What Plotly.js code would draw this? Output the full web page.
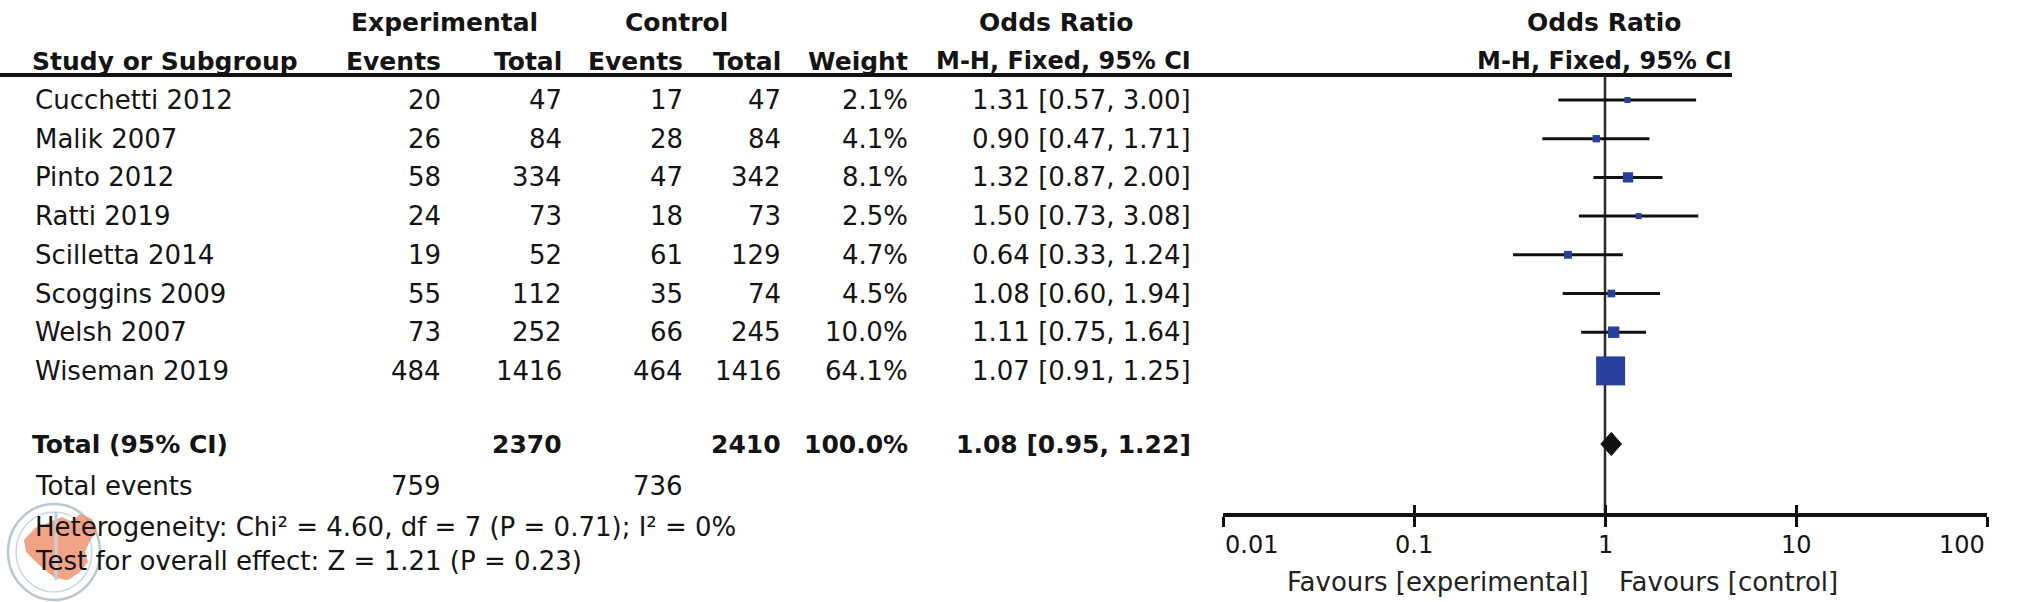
<!DOCTYPE html>
<html>
<head>
<meta charset="utf-8">
<script src="https://cdn.plot.ly/plotly-3.0.1.min.js"></script>
<style>html,body{margin:0;padding:0;background:#fff;}#chart{width:2020px;height:602px;}</style>
</head>
<body>
<div id="chart"></div>
<script>
// ---------- DATA ----------
const studies = ["Cucchetti 2012","Malik 2007","Pinto 2012","Ratti 2019","Scilletta 2014","Scoggins 2009","Welsh 2007","Wiseman 2019"];
const expEvents = [20,26,58,24,19,55,73,484];
const expTotal = [47,84,334,73,52,112,252,1416];
const ctrlEvents = [17,28,47,18,61,35,66,464];
const ctrlTotal = [47,84,342,73,129,74,245,1416];
const weights = [2.1,4.1,8.1,2.5,4.7,4.5,10.0,64.1];
const oddsRatio = [1.31,0.90,1.32,1.50,0.64,1.08,1.11,1.07];
const ciLow = [0.57,0.47,0.87,0.73,0.33,0.60,0.75,0.91];
const ciHigh = [3.00,1.71,2.00,3.08,1.24,1.94,1.64,1.25];

const totalExp = 2370, totalCtrl = 2410, totalWeight = 100.0;
const totalOR = 1.08, totalLow = 0.95, totalHigh = 1.22;
const totalExpEvents = 759, totalCtrlEvents = 736;
const heterogeneityText = "Heterogeneity: Chi² = 4.60, df = 7 (P = 0.71); I² = 0%";
const overallText = "Test for overall effect: Z = 1.21 (P = 0.23)";
const tickVals = [0.01,0.1,1,10,100];
const tickLabels = ["0.01","0.1","1","10","100"];
const favLeft = "Favours [experimental]";
const favRight = "Favours [control]";

// ---------- LAYOUT CONSTANTS ----------
const W = 2020, H = 602;
const ROW0 = 100, ROWH = 38.7;
const px2row = p => (p - ROW0) / ROWH;
const FONT = "DejaVu Sans, Verdana, sans-serif";
const FS = 26, FSB = 25;
const COL = {study:33, expEv:443, expTot:564, ctrlEv:685, ctrlTot:783, weight:910, ci:1193};
const yHead1 = px2row(22), yHead2 = px2row(61), yLine = px2row(75);
const yTotal = px2row(444), yTotEv = px2row(486), yHet = px2row(527), yTest = px2row(561);
const yAxisPx = 515, yTickLbl = px2row(545), yFav = px2row(582);
const textColor = "#141414";

function ann(text, xpx, y, anchor, bold, size) {
  return {text: bold ? "<b>"+text+"</b>" : text, x: xpx / W, xref: "paper", y: y, yref: "y",
    xanchor: anchor, yanchor: "middle", showarrow: false,
    font: {family: FONT, size: size || (bold ? FSB : FS), color: textColor}};
}

const annotations = [];
// headers
annotations.push(ann("Experimental", 444, yHead1, "center", true));
annotations.push(ann("Control", 676, yHead1, "center", true));
annotations.push(ann("Odds Ratio", 1056, yHead1, "center", true));
annotations.push(ann("Odds Ratio", 1604, yHead1, "center", true));
annotations.push(ann("Study or Subgroup", 30, yHead2, "left", true));
annotations.push(ann("Events", COL.expEv, yHead2, "right", true));
annotations.push(ann("Total", COL.expTot, yHead2, "right", true));
annotations.push(ann("Events", COL.ctrlEv, yHead2, "right", true));
annotations.push(ann("Total", COL.ctrlTot, yHead2, "right", true));
annotations.push(ann("Weight", COL.weight, yHead2, "right", true));
annotations.push(ann("M-H, Fixed, 95% CI", COL.ci, yHead2, "right", true, 24));
annotations.push(ann("M-H, Fixed, 95% CI", 1604, yHead2, "center", true, 24));

// study rows
studies.forEach((s, i) => {
  annotations.push(ann(s, COL.study, i, "left", false));
  annotations.push(ann(String(expEvents[i]), COL.expEv, i, "right", false));
  annotations.push(ann(String(expTotal[i]), COL.expTot, i, "right", false));
  annotations.push(ann(String(ctrlEvents[i]), COL.ctrlEv, i, "right", false));
  annotations.push(ann(String(ctrlTotal[i]), COL.ctrlTot, i, "right", false));
  annotations.push(ann(weights[i].toFixed(1) + "%", COL.weight, i, "right", false));
  annotations.push(ann(oddsRatio[i].toFixed(2) + " [" + ciLow[i].toFixed(2) + ", " + ciHigh[i].toFixed(2) + "]", COL.ci, i, "right", false));
});

// total rows
annotations.push(ann("Total (95% CI)", 30, yTotal, "left", true));
annotations.push(ann(String(totalExp), COL.expTot, yTotal, "right", true));
annotations.push(ann(String(totalCtrl), COL.ctrlTot, yTotal, "right", true));
annotations.push(ann(totalWeight.toFixed(1) + "%", COL.weight, yTotal, "right", true));
annotations.push(ann(totalOR.toFixed(2) + " [" + totalLow.toFixed(2) + ", " + totalHigh.toFixed(2) + "]", COL.ci, yTotal, "right", true));
annotations.push(ann("Total events", COL.study, yTotEv, "left", false));
annotations.push(ann(String(totalExpEvents), COL.expEv, yTotEv, "right", false));
annotations.push(ann(String(totalCtrlEvents), COL.ctrlEv, yTotEv, "right", false));
annotations.push(ann(heterogeneityText, COL.study, yHet, "left", false));
annotations.push(ann(overallText, COL.study, yTest, "left", false));

// axis tick labels (end labels kept inside the axis)
tickVals.forEach((v, k) => {
  annotations.push({text: tickLabels[k], x: Math.log10(v), xref: "x", y: yTickLbl, yref: "y",
    xanchor: k === 0 ? "left" : (k === tickVals.length - 1 ? "right" : "center"), yanchor: "middle",
    showarrow: false, font: {family: FONT, size: 24, color: textColor}});
});

// favours labels
annotations.push({text: favLeft, x: 0, xref: "x", y: yFav, yref: "y", xanchor: "right", xshift: -14,
  yanchor: "middle", showarrow: false, font: {family: FONT, size: 26, color: "#222"}});
annotations.push({text: favRight, x: 0, xref: "x", y: yFav, yref: "y", xanchor: "left", xshift: 12,
  yanchor: "middle", showarrow: false, font: {family: FONT, size: 26, color: "#222"}});

// ---------- TRACES ----------
const ciX = [], ciY = [];
studies.forEach((s, i) => { ciX.push(ciLow[i], ciHigh[i], null); ciY.push(i, i, null); });

const maxW = Math.max(...weights);
const sqSize = weights.map(w => Math.max(6, 29 * Math.sqrt(w / maxW)));

const dh = 0.3;
const traces = [
  {x: [1, 1], y: [yLine, px2row(yAxisPx)], mode: "lines", line: {color: "#2a2a2a", width: 2.5},
   hoverinfo: "skip", showlegend: false},
  {x: ciX, y: ciY, mode: "lines", line: {color: "#111", width: 3}, hoverinfo: "skip", showlegend: false},
  {x: oddsRatio, y: studies.map((s, i) => i), mode: "markers", opacity: 1,
   marker: {symbol: "square", size: sqSize, color: "#283F9E", opacity: 1, line: {width: 0}}, showlegend: false},
  {x: [totalLow, totalOR, totalHigh, totalOR, totalLow], y: [yTotal, yTotal - dh, yTotal, yTotal + dh, yTotal],
   mode: "lines", fill: "toself", fillcolor: "#111", line: {color: "#111", width: 1}, showlegend: false},
  {x: [1], y: [yTotal], xaxis: "x2", mode: "markers", marker: {size: 1, opacity: 0}, showlegend: false, hoverinfo: "skip"}
];

// ---------- WATERMARK (publisher seal, decorative) ----------
const pX = p => p / W, pY = p => 1 - p / H;
const sealPts = [[24,540],[35,528],[50,522],[62,517],[72,522],[80,514],[92,519],[97,530],[90,541],[85,552],[88,562],[80,572],[68,580],[55,578],[45,570],[35,561],[26,552]];
const sealPath = "M " + sealPts.map(p => pX(p[0]).toFixed(5) + "," + pY(p[1]).toFixed(5)).join(" L ") + " Z";

const axPos = 1 - yAxisPx / H;
const dom = [1223 / W, 1987 / W];
const layout = {
  width: W, height: H,
  margin: {l: 0, r: 0, t: 0, b: 0, pad: 0},
  paper_bgcolor: "#fff", plot_bgcolor: "rgba(0,0,0,0)",
  showlegend: false,
  xaxis: {type: "log", range: [-2, 2], domain: dom, anchor: "free", position: axPos,
    showline: true, linecolor: "#111", linewidth: 4, showgrid: false, zeroline: false,
    ticks: "outside", ticklen: 10, tickwidth: 3, tickcolor: "#111",
    tickvals: tickVals, showticklabels: false},
  xaxis2: {type: "log", range: [-2, 2], domain: dom, anchor: "free", position: axPos, overlaying: "x",
    showline: false, showgrid: false, zeroline: false, ticks: "inside", ticklen: 10, tickwidth: 3, tickcolor: "#111",
    tickvals: tickVals, showticklabels: false},
  yaxis: {range: [px2row(H), px2row(0)], domain: [0, 1], visible: false, showgrid: false, zeroline: false},
  shapes: [
    {type: "line", xref: "paper", yref: "y", x0: 0, x1: 1732 / W, y0: yLine, y1: yLine,
     line: {color: "#111", width: 4}},
    {type: "circle", xref: "paper", yref: "paper", x0: pX(8), x1: pX(100), y0: pY(600), y1: pY(504),
     line: {color: "#b8c8d2", width: 2.5}, fillcolor: "rgba(255,255,255,0.35)", layer: "above"},
    {type: "circle", xref: "paper", yref: "paper", x0: pX(16), x1: pX(92), y0: pY(592), y1: pY(512),
     line: {color: "#c9d6de", width: 1.5}, fillcolor: "rgba(0,0,0,0)", layer: "above"},
    {type: "path", xref: "paper", yref: "paper", path: sealPath,
     fillcolor: "rgba(238,140,105,0.8)", line: {width: 0}, layer: "above"},
    {type: "line", xref: "paper", yref: "paper", x0: pX(56), x1: pX(56), y0: pY(580), y1: pY(512),
     line: {color: "#c2d0da", width: 3}, layer: "above"}
  ],
  annotations: annotations
};

Plotly.newPlot("chart", traces, layout, {staticPlot: true, displayModeBar: false});
</script>
</body>
</html>
